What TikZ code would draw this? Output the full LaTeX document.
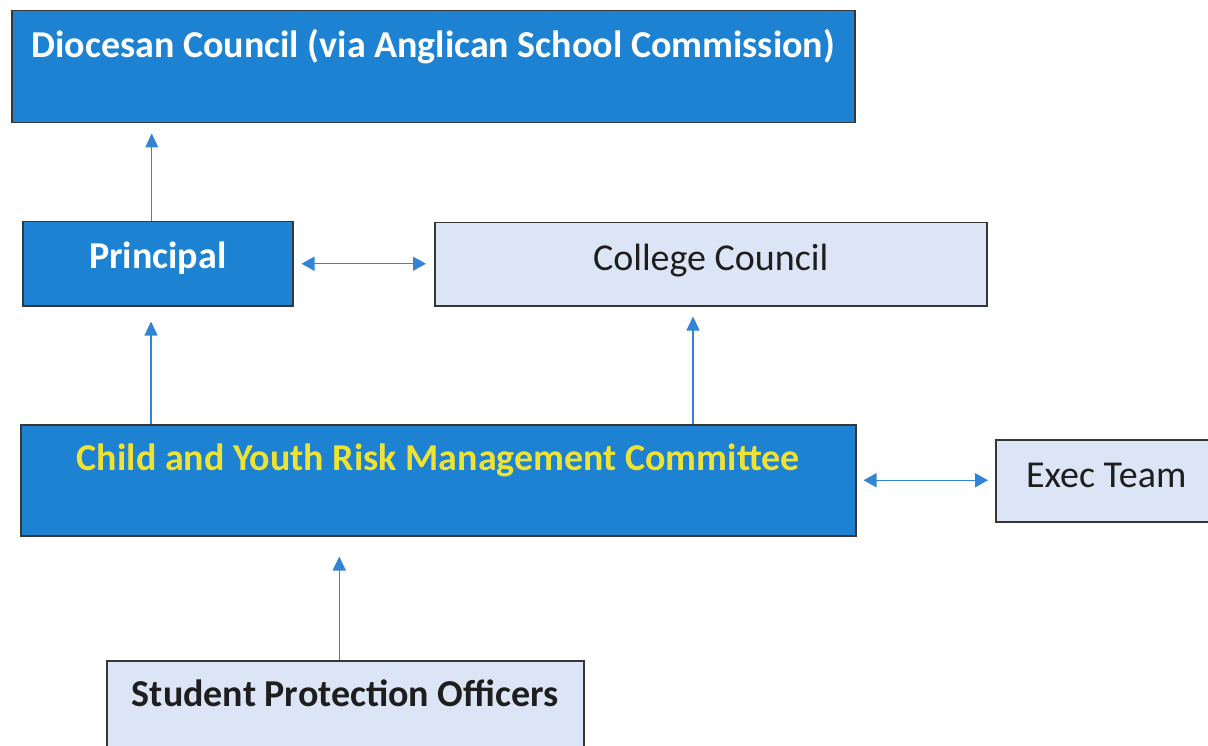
\documentclass[tikz,border=0pt]{standalone}
\usepackage{fontspec}
\setmainfont{Carlito}
\usetikzlibrary{arrows.meta,calc}

\definecolor{darkfill}{RGB}{30,130,210}
\definecolor{lightfill}{RGB}{219,229,245}
\definecolor{boxline}{RGB}{55,55,55}
\definecolor{arrowblue}{RGB}{50,132,212}
\definecolor{yellowtext}{RGB}{238,226,52}
\definecolor{darktext}{RGB}{30,30,30}

\begin{document}
\begin{tikzpicture}[x=1pt, y=-1pt,
    every node/.style={font=\fontsize{38}{45}\selectfont, inner sep=0pt, anchor=north west},
    boldtext/.style={font=\fontsize{38}{45}\selectfont\bfseries},
    darkbox/.style={draw=boxline, line width=1.5pt, fill=darkfill},
    lightbox/.style={draw=boxline, line width=1.5pt, fill=lightfill, text=darktext},
    arr/.style={arrowblue, line width=1.4pt, -{Triangle[length=14pt,width=13pt]}},
    darr/.style={arrowblue, line width=1.4pt, {Triangle[length=13pt,width=14pt]}-{Triangle[length=13pt,width=14pt]}}]

    \useasboundingbox (0,0) rectangle (1208,746);
    \clip (0,0) rectangle (1208,746);

    % caixas de cima
    \node[darkbox, boldtext, text=white, minimum width=843pt, text height=47pt, text depth=65pt] (dio) at (11,10) {Diocesan Council (via Anglican School Commission)};
    \node[darkbox, boldtext, text=white, minimum width=270pt, text height=47pt, text depth=37pt] (prin) at (22,221) {Principal};
    \node[lightbox, minimum width=552pt, text height=48pt, text depth=35pt] (coll) at (434,222) {College Council};

    % comite e equipe
    \node[darkbox, boldtext, text=yellowtext, minimum width=835pt, text height=46pt, text depth=65pt] (cyrm) at (20,424) {Child and Youth Risk Management Committee};
    \node[lightbox, minimum width=221pt, text height=48pt, text depth=34pt] (exec) at (995,439) {Exec Team};

    % oficiais
    \node[lightbox, boldtext, minimum width=477pt, text height=46pt, text depth=70pt] (spo) at (106,660) {Student Protection Officers};

    % setas para cima
    \coordinate (a1) at ($(prin.north)+(-6,0)$);
    \draw[arr, shorten >=10pt] (a1) -- (a1 |- dio.south);
    \coordinate (a2) at ($(cyrm.north west)+(131,0)$);
    \draw[arr, shorten >=15pt] (a2) -- (a2 |- prin.south);
    \coordinate (a3) at ($(cyrm.north west)+(673,0)$);
    \draw[arr, shorten >=10pt] (a3) -- (a3 |- coll.south);
    \coordinate (a4) at ($(spo.north)+(-6,0)$);
    \draw[arr, shorten >=20pt] (a4) -- (a4 |- cyrm.south);

    % setas duplas
    \draw[darr, shorten <=8pt, shorten >=8pt] (prin.east) -- (prin.east -| coll.west);
    \draw[darr, shorten <=7pt, shorten >=7pt] (cyrm.east) -- (cyrm.east -| exec.west);

\end{tikzpicture}
\end{document}
